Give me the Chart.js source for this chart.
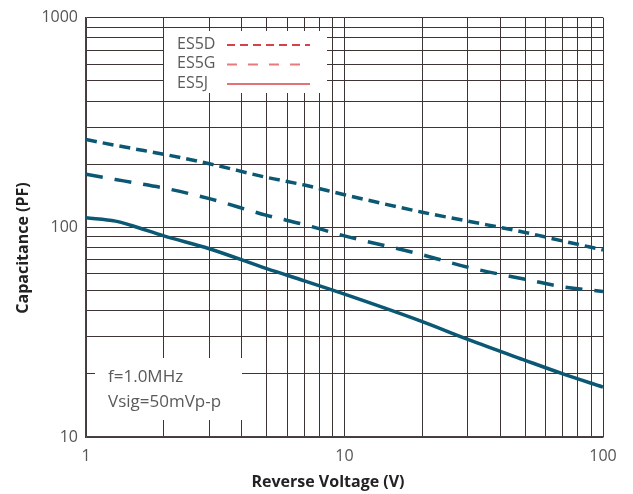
<!DOCTYPE html>
<html>
<head>
<meta charset="utf-8">
<script src="https://cdn.jsdelivr.net/npm/chart.js@4"></script>
<style>
  html, body { margin: 0; padding: 0; background: #fff; }
  #wrap { width: 633px; height: 494px; }
</style>
</head>
<body>
<div id="wrap"><canvas id="capChart"></canvas></div>
<script>
// Capacitance vs reverse voltage
const voltage = [1, 1.3, 1.5, 2, 3, 5, 7, 10, 20, 30, 50, 70, 100];
const es5d = [262, 246, 238, 223, 201, 173, 159, 143, 118, 107, 94.5, 86, 78];
const es5g = [179, 169, 164, 154, 137, 114, 103, 91, 74, 64.5, 56.5, 52, 49.4];
const es5j = [111, 107, 102, 91, 79, 63.5, 55.5, 48, 35.5, 29.2, 23.2, 20, 17.3];

const seriesNames = ['ES5D', 'ES5G', 'ES5J'];
const xTickLabels = [1, 10, 100];
const yTickLabels = [10, 100, 1000];
const noteLines = ['f=1.0MHz', 'Vsig=50mVp-p'];
const xTitle = 'Reverse Voltage (V)';
const yTitle = 'Capacitance (PF)';

const lineColor = '#0b5874';
const legendColors = ['#d6424a', '#e87a7c', '#d9434a'];
const dashes = [[11, 6], [17, 12], []];
const legendDashes = [[8, 5], [10, 11], []];

function points(ys) {
    return voltage.map((v, i) => ({ x: v, y: ys[i] }));
}

// grid lines at 1..9 of every decade
function logGrid(min, max) {
    const out = [];
    for (let d = min; d < max; d *= 10) {
        for (let k = 1; k < 10; k++) out.push(d * k);
    }
    out.push(max);
    return out;
}

const boxes = {
    id: 'boxes',
    afterDraw(chart) {
        const ctx = chart.ctx;
        ctx.save();
        // legend box
        ctx.fillStyle = '#fff';
        ctx.fillRect(164, 31, 163, 62);
        ctx.font = '16px "Open Sans", sans-serif';
        ctx.textBaseline = 'middle';
        seriesNames.forEach((name, i) => {
            const y = 44 + i * 19.5;
            ctx.fillStyle = '#5a5a5a';
            ctx.fillText(name, 177, y);
            ctx.strokeStyle = legendColors[i];
            ctx.lineWidth = i === 2 ? 1.5 : 2;
            ctx.setLineDash(legendDashes[i]);
            ctx.beginPath();
            ctx.moveTo(227, y + 1);
            ctx.lineTo(310, y + 1);
            ctx.stroke();
        });
        ctx.setLineDash([]);
        // condition note
        ctx.fillStyle = '#fff';
        ctx.fillRect(95, 358, 147, 62);
        ctx.fillStyle = '#5a5a5a';
        ctx.font = '17px "Open Sans", sans-serif';
        ctx.fillText(noteLines[0], 108, 377);
        ctx.fillText(noteLines[1], 108, 402);
        // axis titles (placed off-centre like the original)
        ctx.fillStyle = '#222';
        ctx.font = 'bold 16px "Open Sans", sans-serif';
        ctx.textAlign = 'center';
        ctx.fillText(xTitle, 328, 482);
        ctx.translate(23, 248);
        ctx.rotate(-Math.PI / 2);
        ctx.fillText(yTitle, 0, 0);
        ctx.restore();
    }
};

const gridStyle = { color: '#3e3434', lineWidth: 1, drawTicks: false };
const tickFont = { family: '"Open Sans", sans-serif', size: 16 };

new Chart(document.getElementById('capChart'), {
    type: 'line',
    data: {
        datasets: [es5d, es5g, es5j].map((ys, i) => ({
            label: seriesNames[i],
            data: points(ys),
            borderColor: lineColor,
            borderWidth: 3.5,
            borderDash: dashes[i],
            pointRadius: 0,
            fill: false,
            cubicInterpolationMode: 'monotone'
        }))
    },
    options: {
        responsive: true,
        maintainAspectRatio: false,
        animation: false,
        layout: { padding: { left: 10, right: 30, top: 16, bottom: 0 } },
        plugins: { legend: { display: false }, tooltip: { enabled: false } },
        scales: {
            x: {
                type: 'logarithmic',
                min: 1,
                max: 100,
                grid: gridStyle,
                border: { color: '#4a4242', width: 1.5 },
                afterBuildTicks: s => { s.ticks = logGrid(1, 100).map(v => ({ value: v })); },
                afterFit: s => { s.height = 57; },
                ticks: {
                    autoSkip: false,
                    maxRotation: 0,
                    padding: 10,
                    color: '#555',
                    font: tickFont,
                    callback: v => xTickLabels.includes(v) ? String(v) : ''
                }
            },
            y: {
                type: 'logarithmic',
                min: 10,
                max: 1000,
                grid: gridStyle,
                border: { color: '#4a4242', width: 1.5 },
                afterBuildTicks: s => { s.ticks = logGrid(10, 1000).map(v => ({ value: v })); },
                afterFit: s => { s.width = 76; },
                ticks: {
                    autoSkip: false,
                    padding: 8,
                    color: '#555',
                    font: tickFont,
                    callback: v => yTickLabels.includes(v) ? String(v) : ''
                }
            }
        }
    },
    plugins: [boxes]
});
</script>
</body>
</html>
